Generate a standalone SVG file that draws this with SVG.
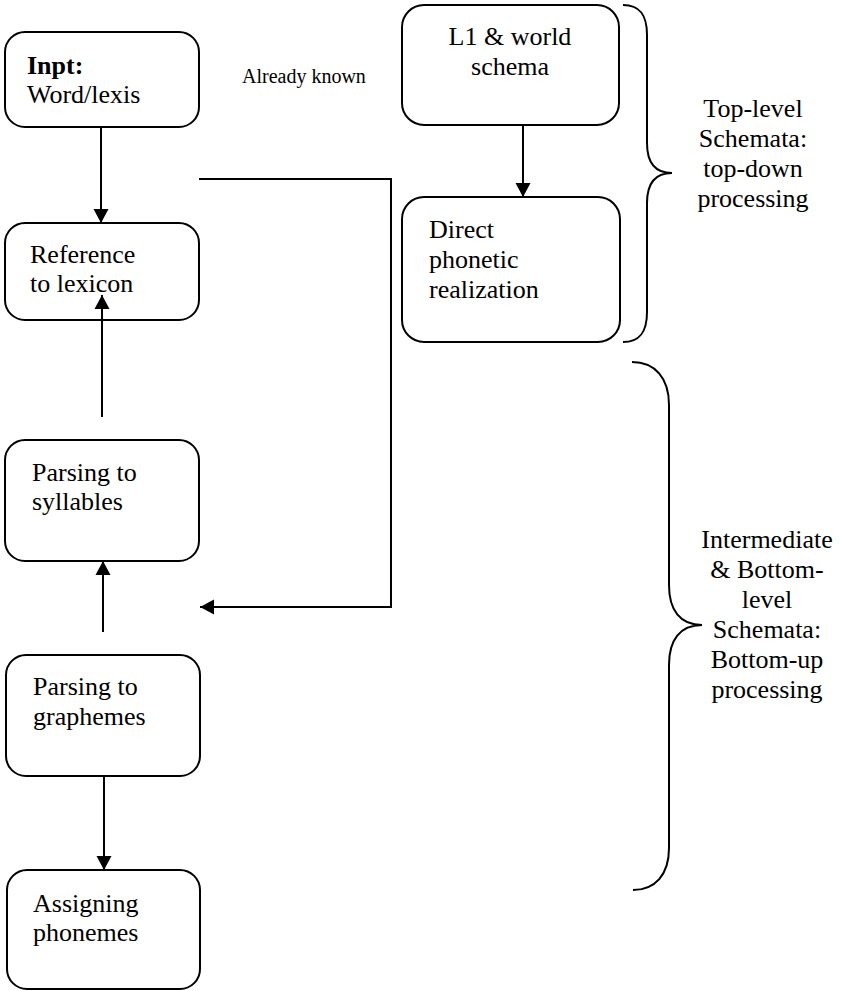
<svg xmlns="http://www.w3.org/2000/svg" width="845" height="991" viewBox="0 0 845 991">
<style>
  .box { fill: #fff; stroke: #000; stroke-width: 2; }
  .t { font-family: "Liberation Serif", "Times New Roman", serif; font-size: 26px; fill: #000; }
  .c { text-anchor: middle; }
  .line { fill: none; stroke: #000; stroke-width: 2; }
  .brace { fill: none; stroke: #000; stroke-width: 2; }
</style>
<defs>
  <marker id="arr" markerUnits="userSpaceOnUse" markerWidth="16" markerHeight="16" refX="14" refY="8" orient="auto">
    <path d="M0,0.5 L14,8 L0,15.5 z" fill="#000"/>
  </marker>
</defs>
<rect width="845" height="991" fill="#fff"/>

<g id="node-input">
  <rect class="box" x="5" y="32" width="194" height="95" rx="20"/>
  <text class="t" x="27" y="74" font-weight="bold">Inpt:</text>
  <text class="t" x="27" y="103">Word/lexis</text>
</g>
<g id="node-reference">
  <rect class="box" x="5" y="223" width="194" height="97" rx="20"/>
  <text class="t" x="30" y="263">Reference</text>
  <text class="t" x="30" y="292">to lexicon</text>
</g>
<g id="node-syllables">
  <rect class="box" x="5" y="440" width="194" height="121" rx="20"/>
  <text class="t" x="32" y="481">Parsing to</text>
  <text class="t" x="32" y="510">syllables</text>
</g>
<g id="node-graphemes">
  <rect class="box" x="6" y="655" width="194" height="121" rx="20"/>
  <text class="t" x="33" y="695">Parsing to</text>
  <text class="t" x="33" y="725">graphemes</text>
</g>
<g id="node-phonemes">
  <rect class="box" x="7" y="870" width="193" height="119" rx="20"/>
  <text class="t" x="33" y="912">Assigning</text>
  <text class="t" x="33" y="941">phonemes</text>
</g>
<g id="node-l1">
  <rect class="box" x="402" y="5" width="217" height="120" rx="22"/>
  <text class="t c" x="510" y="45">L1 &amp; world</text>
  <text class="t c" x="510" y="75">schema</text>
</g>
<g id="node-direct">
  <rect class="box" x="402" y="197" width="218" height="145" rx="22"/>
  <text class="t" x="429" y="238">Direct</text>
  <text class="t" x="429" y="268">phonetic</text>
  <text class="t" x="429" y="298">realization</text>
</g>

<g id="label-known">
  <text x="242" y="83" style="font-family:'Liberation Serif','Times New Roman',serif;font-size:20px;">Already known</text>
</g>

<g id="connectors">
  <line class="line" x1="101" y1="127" x2="101" y2="223" marker-end="url(#arr)"/>
  <line class="line" x1="102" y1="417" x2="102" y2="295" marker-end="url(#arr)"/>
  <line class="line" x1="103" y1="632" x2="103" y2="561" marker-end="url(#arr)"/>
  <line class="line" x1="104" y1="776" x2="104" y2="870" marker-end="url(#arr)"/>
  <line class="line" x1="523" y1="125" x2="523" y2="197" marker-end="url(#arr)"/>
  <path class="line" d="M199,179 H391 V607 H200" marker-end="url(#arr)"/>
</g>

<g id="brace-top">
  <path class="brace" d="M623,5 C640,5 647,15 647,35 L647,143 C647,163 655,173 672,173 C655,173 647,183 647,203 L647,312 C647,332 640,342 623,342"/>
  <text class="t c" x="753" y="117">Top-level</text>
  <text class="t c" x="753" y="147">Schemata:</text>
  <text class="t c" x="753" y="177">top-down</text>
  <text class="t c" x="753" y="207">processing</text>
</g>
<g id="brace-bottom">
  <path class="brace" d="M632,362 C655,362 669,378 669,405 L669,585 C669,610 680,625 702,625 C680,625 669,640 669,665 L669,848 C669,875 655,890 633,890"/>
  <text class="t c" x="767" y="548">Intermediate</text>
  <text class="t c" x="767" y="578">&amp; Bottom-</text>
  <text class="t c" x="767" y="608">level</text>
  <text class="t c" x="767" y="638">Schemata:</text>
  <text class="t c" x="767" y="668">Bottom-up</text>
  <text class="t c" x="767" y="698">processing</text>
</g>
</svg>
